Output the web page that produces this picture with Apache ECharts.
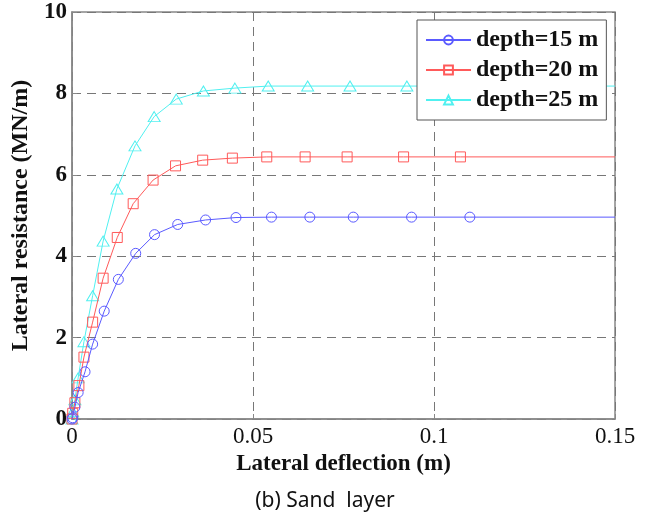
<!DOCTYPE html>
<html>
<head>
<meta charset="utf-8">
<script src="https://cdn.jsdelivr.net/npm/echarts@6/dist/echarts.min.js"></script>
<style>html,body{margin:0;padding:0;background:#fff}#c{width:652px;height:522px}</style>
</head>
<body>
<div id="c"></div>
<script>
// Data
const seriesNames = ['depth=15 m', 'depth=20 m', 'depth=25 m'];
const xTicks = [0, 0.05, 0.1, 0.15];
const yTicks = [0, 2, 4, 6, 8, 10];

const d15x = [0, 0.0002, 0.0008, 0.0017, 0.0036, 0.0057, 0.0089, 0.0128, 0.0176, 0.0228, 0.0292, 0.0369, 0.0453, 0.0551, 0.0657, 0.0777, 0.0938, 0.1099, 0.15];
const d15y = [0, 0.03, 0.29, 0.65, 1.16, 1.84, 2.65, 3.43, 4.07, 4.53, 4.78, 4.89, 4.95, 4.96, 4.96, 4.96, 4.96, 4.96, 4.96];

const d20x = [0, 0.0002, 0.0008, 0.0019, 0.0033, 0.0057, 0.0086, 0.0125, 0.0169, 0.0224, 0.0286, 0.0361, 0.0443, 0.0538, 0.0644, 0.0760, 0.0916, 0.1073, 0.15];
const d20y = [0, 0.14, 0.40, 0.82, 1.52, 2.38, 3.46, 4.46, 5.29, 5.87, 6.22, 6.36, 6.41, 6.44, 6.44, 6.44, 6.44, 6.44, 6.44];

const d25x = [0, 0.0002, 0.0008, 0.0017, 0.0033, 0.0057, 0.0086, 0.0124, 0.0174, 0.0227, 0.0288, 0.0363, 0.0450, 0.0542, 0.0651, 0.0768, 0.0925, 0.1085, 0.15];
const d25y = [0, 0.18, 0.47, 1.01, 1.90, 3.03, 4.37, 5.65, 6.71, 7.43, 7.86, 8.06, 8.13, 8.18, 8.18, 8.18, 8.18, 8.18, 8.18];

const colors = ['#5a5aff', '#ff5a5a', '#50f0f0'];
const symbols = ['circle', 'rect', 'triangle'];
const symSizes = [10, 10, [12, 10]];

function build(xs, ys) {
  return xs.map((x, i) => {
    const item = { value: [x, ys[i]] };
    if (i === xs.length - 1) item.symbol = 'none';
    return item;
  });
}
const datasets = [build(d15x, d15y), build(d20x, d20y), build(d25x, d25y)];

const serif = 'Liberation Serif';
const chart = echarts.init(document.getElementById('c'), null, { renderer: 'canvas' });
chart.setOption({
  animation: false,
  backgroundColor: '#fff',
  title: {
    text: '(b) Sand  layer',
    left: 320, top: 486,
    textAlign: 'center',
    textStyle: { fontFamily: 'Noto Sans', fontSize: 21, fontWeight: 'normal', color: '#111' }
  },
  grid: {
    left: 72, right: 37, top: 12, bottom: 103,
    show: true, borderColor: '#888', borderWidth: 1.5, backgroundColor: 'transparent',
    outerBoundsMode: 'none'
  },
  legend: {
    orient: 'vertical',
    left: 417, top: 20,
    backgroundColor: '#fff',
    borderColor: '#555', borderWidth: 1,
    padding: [8, 8, 8, 8],
    itemWidth: 45, itemHeight: 11, itemGap: 6,
    textStyle: { fontFamily: serif, fontSize: 24, fontWeight: 'bold', color: '#111', lineHeight: 24 },
    data: seriesNames
  },
  xAxis: {
    type: 'value', min: xTicks[0], max: xTicks[xTicks.length - 1], interval: 0.05,
    name: 'Lateral deflection (m)', nameLocation: 'middle', nameGap: 33,
    nameTextStyle: { fontFamily: serif, fontSize: 23, fontWeight: 'bold', color: '#111' },
    axisLine: { show: true, lineStyle: { color: '#888', width: 1.5 } },
    axisTick: { show: true, inside: true, length: 5, lineStyle: { color: '#888' } },
    axisLabel: { fontFamily: serif, fontSize: 23, color: '#111', margin: 6,
      formatter: v => String(v) },
    splitLine: { show: true, lineStyle: { color: '#777', type: [9, 6], width: 1 } }
  },
  yAxis: {
    type: 'value', min: yTicks[0], max: yTicks[yTicks.length - 1], interval: 2,
    name: 'Lateral resistance (MN/m)', nameLocation: 'middle', nameGap: 38,
    nameTextStyle: { fontFamily: serif, fontSize: 24, fontWeight: 'bold', color: '#111' },
    axisLine: { show: true, lineStyle: { color: '#888', width: 1.5 } },
    axisTick: { show: true, inside: true, length: 5, lineStyle: { color: '#888' } },
    axisLabel: { fontFamily: serif, fontSize: 23, fontWeight: 'bold', color: '#111', margin: 5 },
    splitLine: { show: true, lineStyle: { color: '#777', type: [9, 6], width: 1 } }
  },
  series: seriesNames.map((n, i) => ({
    name: n,
    type: 'line',
    data: datasets[i],
    color: colors[i],
    symbol: symbols[i],
    symbolSize: symSizes[i],
    showAllSymbol: true,
    lineStyle: { color: colors[i], width: 1 },
    itemStyle: { color: 'rgba(255,255,255,0)', borderColor: colors[i], borderWidth: 1 },
    z: 3 - i
  }))
});
</script>
</body>
</html>
